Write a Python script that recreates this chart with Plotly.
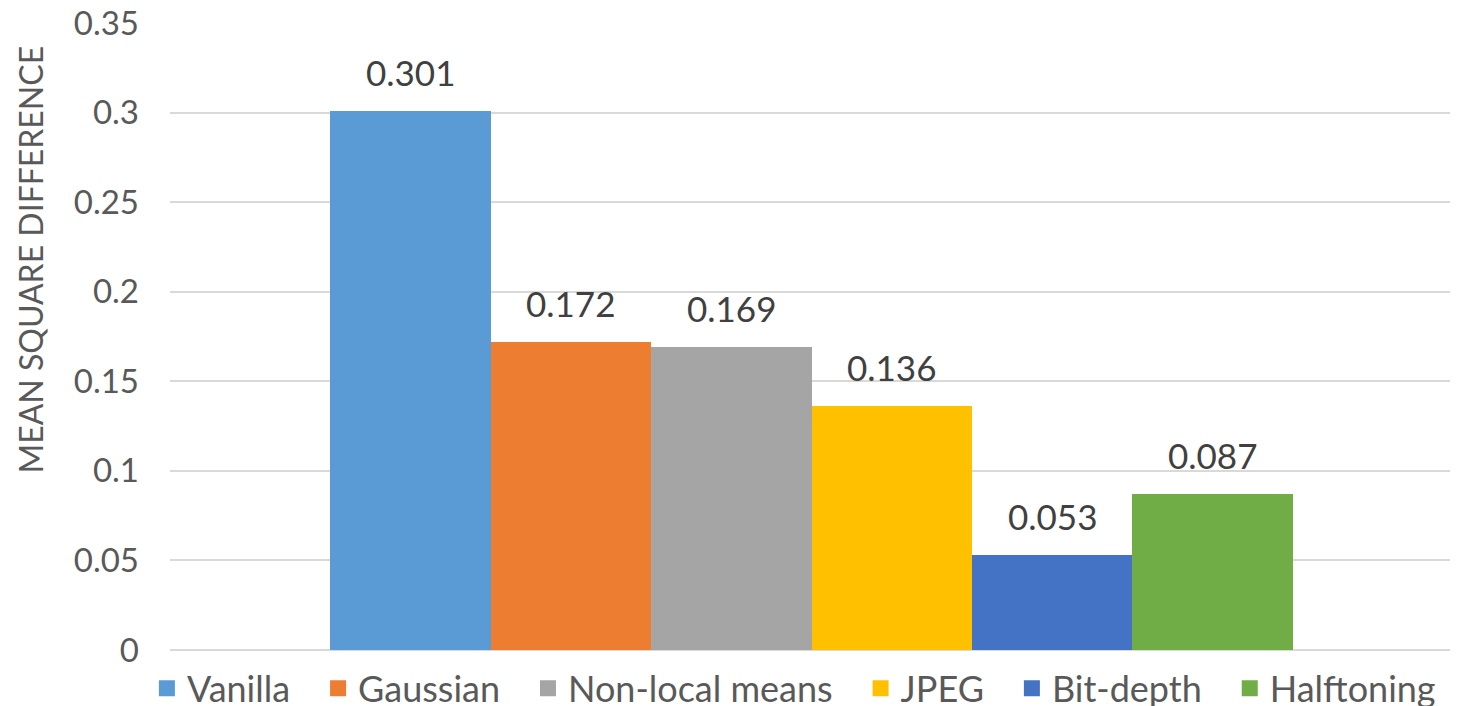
import plotly.graph_objects as go

series = ["Vanilla", "Gaussian", "Non-local means", "JPEG", "Bit-depth", "Halftoning"]
values = [0.301, 0.172, 0.169, 0.136, 0.053, 0.087]
colors = ["#5B9BD5", "#ED7D31", "#A5A5A5", "#FFC000", "#4472C4", "#70AD47"]
y_ticks = [0, 0.05, 0.1, 0.15, 0.2, 0.25, 0.3, 0.35]
y_tick_labels = ["0", "0.05", "0.1", "0.15", "0.2", "0.25", "0.3", "0.35"]
y_title = "MEAN SQUARE DIFFERENCE"

FONT = "Lato"
TXT = "#595959"
PAD = "\u00a0\u00a0\u2009"  # spacing between legend entries

fig = go.Figure()
for name, v, c in zip(series, values, colors):
    fig.add_trace(go.Bar(x=[name], y=[v], name=name, marker=dict(color=c, line=dict(width=0)),
                         showlegend=False, hoverinfo="name+y"))
    fig.add_annotation(x=name, y=v, xref="x", yref="y", text=f"{v:.3f}", showarrow=False,
                       yanchor="middle", yshift=39,
                       font=dict(family=FONT, size=35, color="#404040"))
for i, (name, c) in enumerate(zip(series, colors)):
    label = name + (PAD if i < len(series) - 1 else "")
    fig.add_trace(go.Scatter(x=[None], y=[None], mode="markers", name=label,
                             marker=dict(symbol="square", size=16, color=c), showlegend=True))

fig.add_annotation(x=-0.1095, y=0.622, xref="paper", yref="paper", text=y_title, textangle=-90,
                   showarrow=False, xanchor="center", yanchor="middle",
                   font=dict(family=FONT, size=32, color=TXT))

# page body has an 8px margin, so the figure is sized/offset to compensate
fig.update_layout(
    width=1450, height=698,
    margin=dict(l=162, r=5, t=15, b=56, autoexpand=False),
    paper_bgcolor="white", plot_bgcolor="white",
    barmode="overlay", bargap=0,
    font=dict(family=FONT, color=TXT),
    legend=dict(orientation="h", x=-0.018, xanchor="left", y=-0.061, yanchor="middle",
                font=dict(family=FONT, size=36, color=TXT), itemwidth=30,
                bgcolor="rgba(0,0,0,0)"),
    xaxis=dict(type="category", categoryorder="array", categoryarray=series,
               range=[-1.5, 6.5], showticklabels=False, showgrid=False, zeroline=False,
               showline=False, ticks=""),
    yaxis=dict(range=[0, 0.35], tickvals=y_ticks, ticktext=y_tick_labels, showgrid=True,
               gridcolor="#D9D9D9", gridwidth=2, zeroline=True, zerolinecolor="#D9D9D9",
               zerolinewidth=2, showline=False, ticks="", ticklabelstandoff=30,
               ticklabeloverflow="allow",
               tickfont=dict(family=FONT, size=33, color=TXT)),
)

fig.write_html("out.html")
